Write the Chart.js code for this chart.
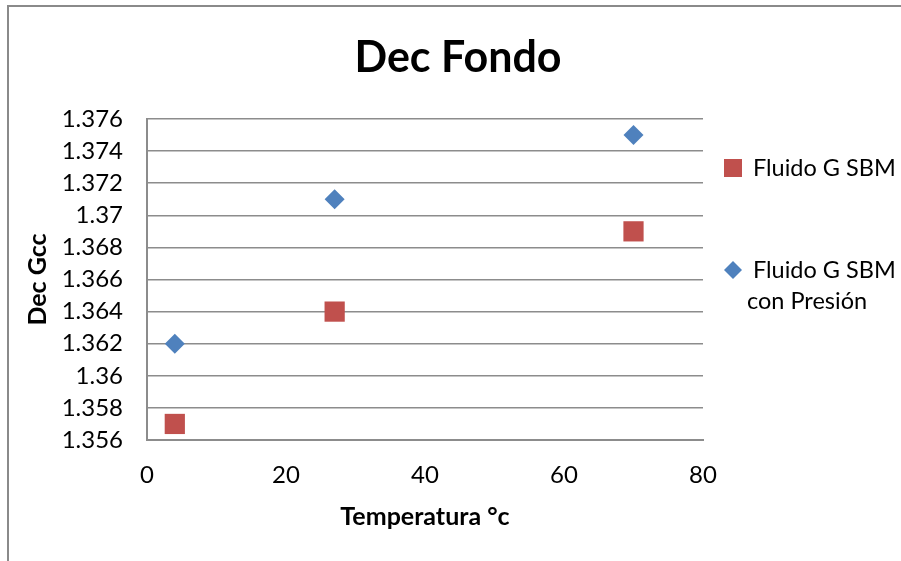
<!DOCTYPE html>
<html>
<head>
<meta charset="utf-8">
<script src="https://cdn.jsdelivr.net/npm/chart.js@4"></script>
<style>
  html, body { margin: 0; padding: 0; background: #fff; }
  #wrap { position: relative; width: 901px; height: 561px; overflow: hidden; }
  #frame { position: absolute; left: 7px; top: 5px; width: 1000px; height: 1000px;
           border-left: 2px solid #8a8a8a; border-top: 2px solid #8a8a8a; }
  canvas { position: absolute; left: 0; top: 0; }
</style>
</head>
<body>
<div id="wrap">
  <canvas id="c" width="901" height="561"></canvas>
  <div id="frame"></div>
</div>
<script>
// Temperatura (°c) for each reading
const temperatures = [4, 27, 70];
// Dec Gcc per series
const fluidoSbm = [1.357, 1.364, 1.369];
const fluidoSbmPresion = [1.362, 1.371, 1.375];
const seriesLabels = [['Fluido G SBM'], ['Fluido G SBM', 'con Presión']];
const chartTitle = 'Dec Fondo';
const xTitle = 'Temperatura °c';
const yTitle = 'Dec Gcc';

const RED = '#c0504d';
const BLUE = '#4f81bd';
const GRID = '#8c8c8c';
const FONT = 'Lato, "Open Sans", sans-serif';

const toPoints = ys => temperatures.map((x, i) => ({ x, y: ys[i] }));

// title and right-hand legend drawn by hand so they sit where Excel put them
const decorations = {
  id: 'decorations',
  afterDraw(chart) {
    const ctx = chart.ctx;
    ctx.save();
    ctx.fillStyle = '#000';
    ctx.textBaseline = 'middle';
    ctx.textAlign = 'center';
    ctx.font = 'bold 43px ' + FONT;
    ctx.fillText(chartTitle, 458, 58);

    ctx.textAlign = 'left';
    ctx.font = '23.5px ' + FONT;
    const rows = [168, 270];
    chart.data.datasets.forEach((ds, i) => {
      const y = rows[i];
      ctx.fillStyle = ds.backgroundColor;
      if (ds.pointStyle === 'rect') {
        ctx.fillRect(724, y - 9, 18, 18);
      } else {
        ctx.beginPath();
        ctx.moveTo(733, y - 9);
        ctx.lineTo(742, y);
        ctx.lineTo(733, y + 9);
        ctx.lineTo(724, y);
        ctx.closePath();
        ctx.fill();
      }
      ctx.fillStyle = '#000';
      seriesLabels[i].forEach((line, j) => {
        ctx.fillText(line, j === 0 ? 753 : 747, y + j * 31);
      });
    });
    ctx.restore();
  }
};

new Chart(document.getElementById('c'), {
  type: 'scatter',
  data: {
    datasets: [
      {
        label: seriesLabels[0].join(' '),
        data: toPoints(fluidoSbm),
        pointStyle: 'rect',
        pointRadius: 14.3,
        pointHoverRadius: 14.3,
        backgroundColor: RED,
        borderColor: RED,
        borderWidth: 0,
      },
      {
        label: seriesLabels[1].join(' '),
        data: toPoints(fluidoSbmPresion),
        pointStyle: 'rectRot',
        pointRadius: 10,
        pointHoverRadius: 10,
        backgroundColor: BLUE,
        borderColor: BLUE,
        borderWidth: 0,
      },
    ],
  },
  options: {
    responsive: false,
    animation: false,
    layout: { padding: { left: 0, right: 198, top: 119, bottom: 0 } },
    plugins: {
      legend: { display: false },
      title: { display: false },
      tooltip: { enabled: false },
    },
    scales: {
      x: {
        type: 'linear',
        min: 0,
        max: 80,
        ticks: { stepSize: 20, padding: 21, color: '#000', font: { family: FONT, size: 24 } },
        grid: { display: false, drawTicks: false },
        border: { display: true, color: GRID, width: 2 },
        title: { display: true, text: xTitle, color: '#000',
                 font: { family: FONT, size: 25, weight: 'bold' }, padding: { top: 0, bottom: 29 } },
        afterFit: s => { s.height = 121; },
      },
      y: {
        min: 1.356,
        max: 1.376,
        ticks: {
          stepSize: 0.002,
          padding: 24,
          color: '#000',
          font: { family: FONT, size: 24 },
          callback: v => String(Number(v.toFixed(3))),
        },
        grid: { color: GRID, lineWidth: 1.5, drawTicks: false },
        border: { display: true, color: GRID, width: 2 },
        title: { display: true, text: yTitle, color: '#000',
                 font: { family: FONT, size: 25, weight: 'bold' }, padding: { top: 23, bottom: 0 } },
        afterFit: s => { s.width = 147; },
      },
    },
  },
  plugins: [decorations],
});
</script>
</body>
</html>
